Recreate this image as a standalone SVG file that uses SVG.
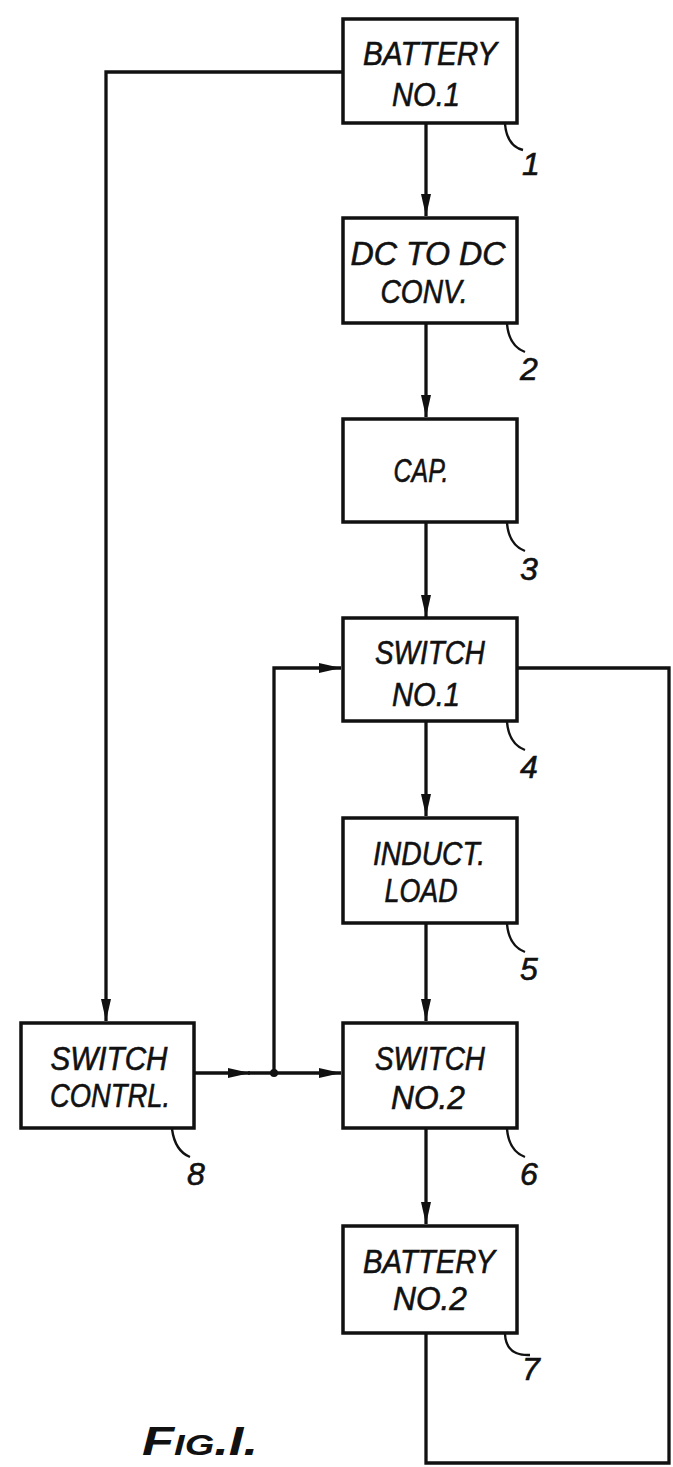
<svg xmlns="http://www.w3.org/2000/svg" width="673" height="1467" viewBox="0 0 673 1467">
<style>
.box{fill:#fff;stroke:#111;stroke-width:3.5}
.ln{fill:none;stroke:#111;stroke-width:3.3}
.lead{fill:none;stroke:#111;stroke-width:2.4}
.t{font-family:"Liberation Sans",Arial,sans-serif;font-style:italic;font-size:33px;fill:#111;stroke:#111;stroke-width:0.6;text-anchor:middle}
.n{font-family:"Liberation Sans",Arial,sans-serif;font-style:italic;font-size:32px;fill:#111;stroke:#111;stroke-width:0.6}
.fig{font-family:"Liberation Sans",Arial,sans-serif;font-style:italic;font-weight:bold;fill:#111}
</style>
<defs>
<marker id="ah" markerUnits="userSpaceOnUse" markerWidth="24" markerHeight="12" refX="22" refY="6" orient="auto">
<path d="M0,1 L22,6 L0,11 Z" fill="#111"/>
</marker>
</defs>
<rect width="673" height="1467" fill="#fff"/>
<g id="connectors">
<path class="ln" d="M343,72 H106 V1021" marker-end="url(#ah)"/>
<path class="ln" d="M426,123 V216" marker-end="url(#ah)"/>
<path class="ln" d="M426,323 V417" marker-end="url(#ah)"/>
<path class="ln" d="M426,522 V617" marker-end="url(#ah)"/>
<path class="ln" d="M426,721 V816" marker-end="url(#ah)"/>
<path class="ln" d="M426,923 V1021" marker-end="url(#ah)"/>
<path class="ln" d="M426,1128 V1224" marker-end="url(#ah)"/>
<path class="ln" d="M517,668 H669 V1463 H426 V1333"/>
<path class="ln" d="M194,1073 H250" marker-end="url(#ah)"/>
<path class="ln" d="M248,1073 H341" marker-end="url(#ah)"/>
<path class="ln" d="M274,1073 V668 H341" marker-end="url(#ah)"/>
<circle cx="274" cy="1073" r="4" fill="#111"/>
</g>
<g id="node1">
<rect class="box" x="343" y="19" width="174" height="104"/>
<text class="t" x="430" y="65" textLength="134" lengthAdjust="spacingAndGlyphs">BATTERY</text>
<text class="t" x="426" y="106" textLength="68" lengthAdjust="spacingAndGlyphs">NO.1</text>
<path class="lead" d="M505,124 Q507,146 523,150"/>
<text class="n" x="522" y="175">1</text>
</g>
<g id="node2">
<rect class="box" x="343" y="218" width="174" height="105"/>
<text class="t" x="428" y="265" textLength="155" lengthAdjust="spacingAndGlyphs">DC TO DC</text>
<text class="t" x="424" y="303" textLength="87" lengthAdjust="spacingAndGlyphs">CONV.</text>
<path class="lead" d="M507,324 Q509,346 525,352"/>
<text class="n" x="520" y="380">2</text>
</g>
<g id="node3">
<rect class="box" x="343" y="419" width="174" height="103"/>
<text class="t" x="421" y="482" textLength="55" lengthAdjust="spacingAndGlyphs">CAP.</text>
<path class="lead" d="M507,523 Q509,545 525,551"/>
<text class="n" x="520" y="580">3</text>
</g>
<g id="node4">
<rect class="box" x="343" y="618" width="174" height="103"/>
<text class="t" x="430" y="664" textLength="110" lengthAdjust="spacingAndGlyphs">SWITCH</text>
<text class="t" x="426" y="706" textLength="68" lengthAdjust="spacingAndGlyphs">NO.1</text>
<path class="lead" d="M507,722 Q509,744 525,750"/>
<text class="n" x="520" y="778">4</text>
</g>
<g id="node5">
<rect class="box" x="343" y="818" width="174" height="105"/>
<text class="t" x="429" y="865" textLength="112" lengthAdjust="spacingAndGlyphs">INDUCT.</text>
<text class="t" x="421" y="902" textLength="73" lengthAdjust="spacingAndGlyphs">LOAD</text>
<path class="lead" d="M507,924 Q509,946 525,952"/>
<text class="n" x="520" y="980">5</text>
</g>
<g id="node6">
<rect class="box" x="343" y="1023" width="174" height="105"/>
<text class="t" x="430" y="1070" textLength="110" lengthAdjust="spacingAndGlyphs">SWITCH</text>
<text class="t" x="428" y="1109" textLength="74" lengthAdjust="spacingAndGlyphs">NO.2</text>
<path class="lead" d="M507,1129 Q509,1151 525,1157"/>
<text class="n" x="520" y="1185">6</text>
</g>
<g id="node7">
<rect class="box" x="343" y="1226" width="174" height="107"/>
<text class="t" x="429" y="1273" textLength="132" lengthAdjust="spacingAndGlyphs">BATTERY</text>
<text class="t" x="430" y="1310" textLength="74" lengthAdjust="spacingAndGlyphs">NO.2</text>
<path class="lead" d="M505,1334 Q506,1356 530,1355"/>
<text class="n" x="522" y="1380">7</text>
</g>
<g id="node8">
<rect class="box" x="21" y="1023" width="173" height="105"/>
<text class="t" x="109" y="1070" textLength="117" lengthAdjust="spacingAndGlyphs">SWITCH</text>
<text class="t" x="110" y="1107" textLength="120" lengthAdjust="spacingAndGlyphs">CONTRL.</text>
<path class="lead" d="M172,1129 Q175,1151 190,1157"/>
<text class="n" x="187" y="1185">8</text>
</g>
<text class="fig" x="142" y="1455" font-size="40" textLength="116" lengthAdjust="spacingAndGlyphs">F<tspan font-size="29">IG</tspan>.I.</text>
</svg>
